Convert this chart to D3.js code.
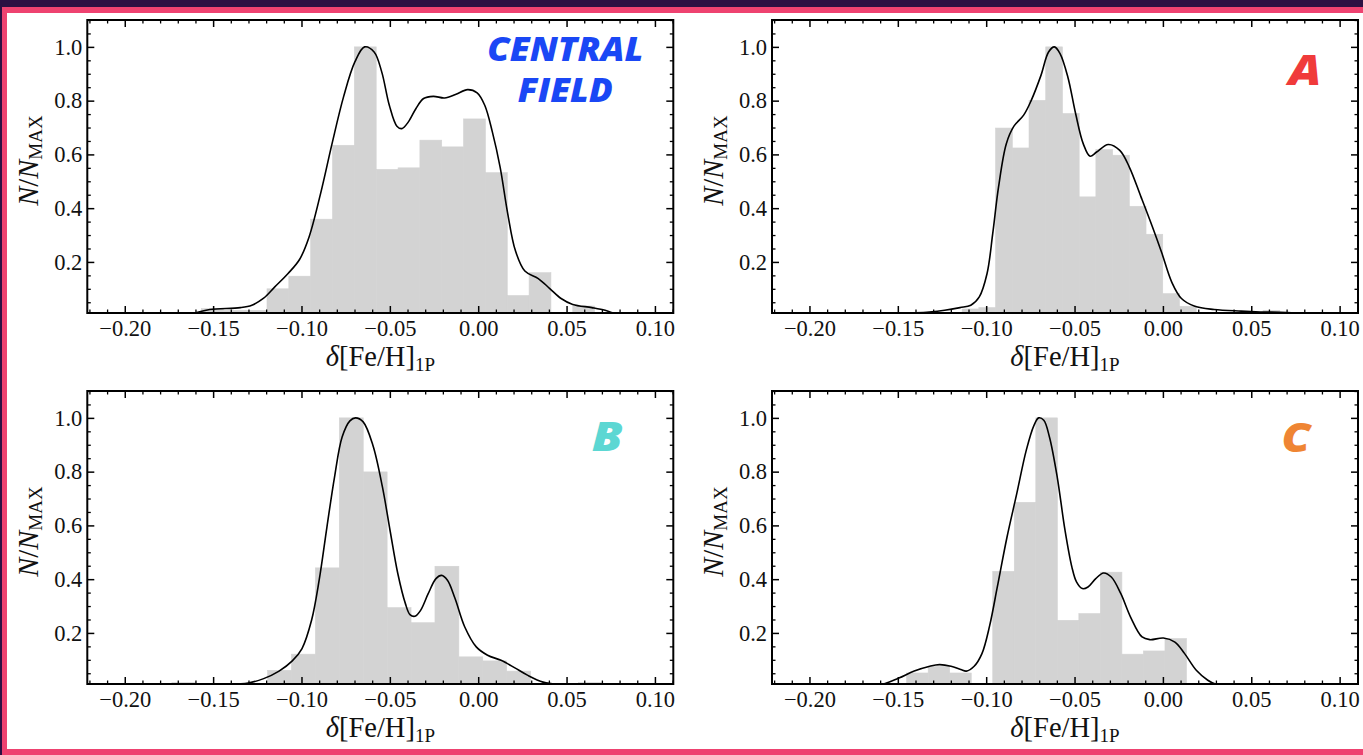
<!DOCTYPE html>
<html>
<head>
<meta charset="utf-8">
<script src="https://cdn.jsdelivr.net/npm/d3@7"></script>
<style>
  html, body { margin: 0; padding: 0; background: #fff; }
  svg { display: block; }
  .tickLab { font-family: "Liberation Serif", "DejaVu Serif", serif; font-size: 22.5px; fill: #111; }
  .axTitle { font-family: "Liberation Serif", "DejaVu Serif", serif; font-size: 28.5px; fill: #111; }
  .tag { font-family: "Open Sans", "Lato", sans-serif; font-weight: 800; font-style: italic; }
</style>
</head>
<body>
<div id="chart"></div>
<script>
// axis setup (shared by the 4 panels)
const xDomain = [-0.2212, 0.1104];
const yDomain = [0.01, 1.1];
const xTicks = [-0.20, -0.15, -0.10, -0.05, 0.00, 0.05, 0.10];
const yTicks = [0.2, 0.4, 0.6, 0.8, 1.0];
const xMinorStep = 0.01;
const yMinorStep = 0.05;

// central field
const centralBinStart = -0.1566;
const centralBinWidth = 0.01236;
const centralHist = [0.026, 0.02, 0.02, 0.10, 0.147, 0.359, 0.634, 1.0, 0.544, 0.55, 0.653, 0.628, 0.732, 0.532, 0.075, 0.16, 0, 0.036];
const centralKde = [
  [-0.175, 0.0], [-0.1605, 0.010], [-0.1519, 0.023], [-0.1346, 0.030], [-0.1281, 0.039], [-0.1216, 0.064],
  [-0.1151, 0.107], [-0.1076, 0.157], [-0.1011, 0.209], [-0.0957, 0.293], [-0.0892, 0.454],
  [-0.0827, 0.640], [-0.0762, 0.814], [-0.0698, 0.944], [-0.0643, 1.0], [-0.0589, 0.981],
  [-0.0546, 0.907], [-0.0503, 0.783], [-0.0460, 0.705], [-0.0432, 0.696], [-0.0395, 0.721],
  [-0.0352, 0.771], [-0.0309, 0.808], [-0.0254, 0.816], [-0.0190, 0.810], [-0.0125, 0.824],
  [-0.0060, 0.841], [-0.0006, 0.829], [0.0037, 0.783], [0.0080, 0.684], [0.0124, 0.553],
  [0.0167, 0.380], [0.0210, 0.243], [0.0264, 0.166], [0.0340, 0.138], [0.0405, 0.101],
  [0.0469, 0.064], [0.0535, 0.042], [0.0643, 0.030], [0.0718, 0.020], [0.0766, 0.010], [0.09, 0.0]
];

// field A
const aBinStart = -0.1136;
const aBinWidth = 0.00946;
const aHist = [0.025, 0.03, 0.698, 0.624, 0.801, 1.0, 0.752, 0.442, 0.618, 0.597, 0.407, 0.303, 0.082, 0.035, 0, 0, 0, 0, 0.02];
const aKde = [
  [-0.16, 0.005], [-0.1322, 0.014], [-0.1235, 0.020], [-0.1148, 0.030], [-0.1087, 0.039], [-0.1039, 0.070],
  [-0.0995, 0.157], [-0.0963, 0.305], [-0.0930, 0.479], [-0.0886, 0.640], [-0.0843, 0.705],
  [-0.0788, 0.746], [-0.0745, 0.801], [-0.0690, 0.894], [-0.0647, 0.981], [-0.0614, 1.0],
  [-0.0582, 0.975], [-0.0538, 0.888], [-0.0494, 0.752], [-0.0451, 0.640], [-0.0412, 0.593],
  [-0.0375, 0.609], [-0.0309, 0.637], [-0.0244, 0.615], [-0.0190, 0.553], [-0.0124, 0.442],
  [-0.0059, 0.330], [-0.0005, 0.231], [0.0050, 0.125], [0.0105, 0.064], [0.0181, 0.035],
  [0.0290, 0.023], [0.0442, 0.017], [0.0551, 0.014], [0.0700, 0.012], [0.09, 0.005]
];

// field B
const bBinStart = -0.1733;
const bBinWidth = 0.01353;
const bHist = [0.015, 0, 0, 0, 0.061, 0.121, 0.442, 1.0, 0.799, 0.294, 0.238, 0.448, 0.111, 0.096, 0.058, 0, 0, 0.015];
const bKde = [
  [-0.19, 0.0], [-0.165, 0.004], [-0.145, 0.008], [-0.1301, 0.014], [-0.1214, 0.030], [-0.1127, 0.058],
  [-0.1052, 0.096], [-0.0997, 0.142], [-0.0943, 0.247], [-0.0900, 0.396], [-0.0856, 0.594],
  [-0.0813, 0.780], [-0.0770, 0.929], [-0.0726, 0.989], [-0.0694, 1.0], [-0.0651, 0.985],
  [-0.0596, 0.898], [-0.0542, 0.743], [-0.0499, 0.582], [-0.0455, 0.421], [-0.0412, 0.309],
  [-0.0386, 0.268], [-0.0358, 0.262], [-0.0326, 0.284], [-0.0283, 0.346], [-0.0239, 0.402],
  [-0.0207, 0.414], [-0.0174, 0.396], [-0.0131, 0.328], [-0.0076, 0.222], [-0.0011, 0.148],
  [0.0053, 0.117], [0.0129, 0.098], [0.0205, 0.071], [0.0281, 0.042], [0.0367, 0.017],
  [0.0454, 0.008], [0.06, 0.006], [0.075, 0.004], [0.09, 0.0]
];

// field C
const cBinStart = -0.1450;
const cBinWidth = 0.01218;
const cHist = [0.051, 0.076, 0.051, 0, 0.429, 0.686, 1.0, 0.247, 0.272, 0.426, 0.121, 0.133, 0.179];
const cKde = [
  [-0.17, 0.0], [-0.1581, 0.010], [-0.1494, 0.032], [-0.1407, 0.058], [-0.1319, 0.076], [-0.1264, 0.082],
  [-0.1199, 0.076], [-0.1144, 0.064], [-0.1112, 0.058], [-0.1068, 0.076], [-0.1024, 0.123],
  [-0.0980, 0.228], [-0.0937, 0.371], [-0.0882, 0.557], [-0.0827, 0.718], [-0.0773, 0.880],
  [-0.0729, 0.973], [-0.0703, 1.0], [-0.0674, 0.991], [-0.0642, 0.929], [-0.0598, 0.780],
  [-0.0554, 0.582], [-0.0515, 0.445], [-0.0489, 0.390], [-0.0456, 0.365], [-0.0424, 0.371],
  [-0.0380, 0.402], [-0.0336, 0.423], [-0.0292, 0.408], [-0.0238, 0.346], [-0.0183, 0.259],
  [-0.0118, 0.185], [-0.0074, 0.175], [0.0003, 0.181], [0.0068, 0.166], [0.0123, 0.123],
  [0.0189, 0.061], [0.0254, 0.024], [0.0297, 0.010], [0.04, 0.0]
];

const panelTags = [["CENTRAL", "FIELD"], ["A"], ["B"], ["C"]];
const tagColors = ["#1a47f5", "#f03b3b", "#5cd7d3", "#ef8533"];

// -------------------------------------------------------------
const W = 1363, H = 755;
const pw = 586, ph = 293;

const panels = [
  { left: 87.3, top: 20, start: centralBinStart, width: centralBinWidth, hist: centralHist, kde: centralKde,
    tag: panelTags[0], color: tagColors[0], tagX: 478, tagY: [40.7, 81.7], tagSize: 33, tagLen: [156, 95] },
  { left: 772, top: 20, start: aBinStart, width: aBinWidth, hist: aHist, kde: aKde,
    tag: panelTags[1], color: tagColors[1], tagX: 533, tagY: [65], tagSize: 42, tagLen: [33] },
  { left: 87.3, top: 391, start: bBinStart, width: bBinWidth, hist: bHist, kde: bKde,
    tag: panelTags[2], color: tagColors[2], tagX: 520, tagY: [60], tagSize: 41, tagLen: [31] },
  { left: 772, top: 391, start: cBinStart, width: cBinWidth, hist: cHist, kde: cKde,
    tag: panelTags[3], color: tagColors[3], tagX: 524, tagY: [61], tagSize: 41, tagLen: [29] }
];

const svg = d3.select("#chart").append("svg").attr("width", W).attr("height", H);

// slide frame
svg.append("rect").attr("width", W).attr("height", H).attr("fill", "#2c1042");
svg.append("rect").attr("x", 2).attr("y", 7).attr("width", W).attr("height", H).attr("fill", "#ee4270");
svg.append("rect").attr("x", 7).attr("y", 13).attr("width", W).attr("height", 749 - 13).attr("fill", "#fff");

const x = d3.scaleLinear().domain(xDomain).range([0, pw]);
const y = d3.scaleLinear().domain(yDomain).range([ph, 0]);

const xMinor = d3.range(-0.22, 0.1101, xMinorStep).filter(v => !xTicks.some(t => Math.abs(t - v) < 1e-6));
const yMinor = d3.range(0.05, 1.101, yMinorStep).filter(v => !yTicks.some(t => Math.abs(t - v) < 1e-6));

const line = d3.line().x(d => x(d[0])).y(d => y(d[1])).curve(d3.curveCatmullRom.alpha(0.5));

panels.forEach((p, pi) => {
  const g = svg.append("g").attr("transform", `translate(${p.left},${p.top})`);

  const clipId = "clip" + pi;
  g.append("clipPath").attr("id", clipId)
    .append("rect").attr("width", pw).attr("height", ph);

  const plot = g.append("g").attr("clip-path", `url(#${clipId})`);

  // histogram
  const bins = p.hist.map((h, i) => ({ x0: p.start + i * p.width, x1: p.start + (i + 1) * p.width, h }))
    .filter(b => b.h > 0);

  plot.selectAll("rect.bar")
    .data(bins)
    .enter()
    .append("rect")
    .attr("class", "bar")
    .attr("x", b => x(b.x0))
    .attr("width", b => x(b.x1) - x(b.x0))
    .attr("y", b => y(b.h))
    .attr("height", b => ph - y(b.h) + 2)
    .attr("fill", "#d3d3d3")
    .attr("stroke", "#d3d3d3")
    .attr("stroke-width", 0.6);

  // kde
  plot.append("path")
    .datum(p.kde)
    .attr("d", line)
    .attr("fill", "none")
    .attr("stroke", "#000")
    .attr("stroke-width", 1.6);

  // ticks (inward, all four sides)
  const axes = [
    { ax: d3.axisBottom(x), t: `translate(0,${ph})`, vals: xTicks, minor: xMinor, fmt: d3.format(".2f") },
    { ax: d3.axisTop(x), t: "translate(0,0)", vals: xTicks, minor: xMinor, fmt: null },
    { ax: d3.axisLeft(y), t: "translate(0,0)", vals: yTicks, minor: yMinor, fmt: d3.format(".1f") },
    { ax: d3.axisRight(y), t: `translate(${pw},0)`, vals: yTicks, minor: yMinor, fmt: null }
  ];

  axes.forEach(a => {
    const gm = g.append("g").attr("transform", a.t)
      .call(a.ax.tickValues(a.minor).tickSize(-3.5).tickFormat(""));
    gm.select(".domain").remove();
    gm.selectAll("line").attr("stroke", "#000").attr("stroke-width", 1.3);
  });

  axes.forEach((a, ai) => {
    const axis = (ai === 0 ? d3.axisBottom(x) : ai === 1 ? d3.axisTop(x) : ai === 2 ? d3.axisLeft(y) : d3.axisRight(y))
      .tickValues(a.vals).tickSize(-7).tickPadding(ai === 2 ? 5 : 7)
      .tickFormat(a.fmt ? a.fmt : "");
    const ga = g.append("g").attr("transform", a.t).call(axis);
    ga.select(".domain").remove();
    ga.selectAll("line").attr("stroke", "#000").attr("stroke-width", 1.5);
    ga.selectAll("text").attr("class", "tickLab").attr("font-family", null).attr("font-size", null).attr("fill", null);
  });

  // frame
  g.append("rect")
    .attr("width", pw).attr("height", ph)
    .attr("fill", "none").attr("stroke", "#000").attr("stroke-width", 2);

  // x label: δ[Fe/H]_1P
  const xl = g.append("text").attr("class", "axTitle")
    .attr("x", pw / 2).attr("y", ph + 53).attr("text-anchor", "middle");
  xl.append("tspan").attr("font-style", "italic").text("δ");
  xl.append("tspan").text("[Fe/H]");
  xl.append("tspan").attr("font-size", 19).attr("dy", 5).text("1P");

  // y label: N/N_MAX
  const yl = g.append("text").attr("class", "axTitle")
    .attr("text-anchor", "middle")
    .attr("transform", `translate(-49,${ph / 2 - 6}) rotate(-90)`);
  yl.append("tspan").attr("font-style", "italic").text("N");
  yl.append("tspan").text("/");
  yl.append("tspan").attr("font-style", "italic").text("N");
  yl.append("tspan").attr("font-size", 19).attr("dy", 4).text("MAX");

  // panel tag
  p.tag.forEach((word, wi) => {
    g.append("text")
      .attr("class", "tag")
      .attr("x", p.tagX)
      .attr("y", p.tagY[wi])
      .attr("text-anchor", "middle")
      .attr("font-size", p.tagSize)
      .attr("fill", p.color)
      .attr("textLength", p.tagLen[wi])
      .attr("lengthAdjust", "spacingAndGlyphs")
      .text(word);
  });
});
</script>
</body>
</html>
